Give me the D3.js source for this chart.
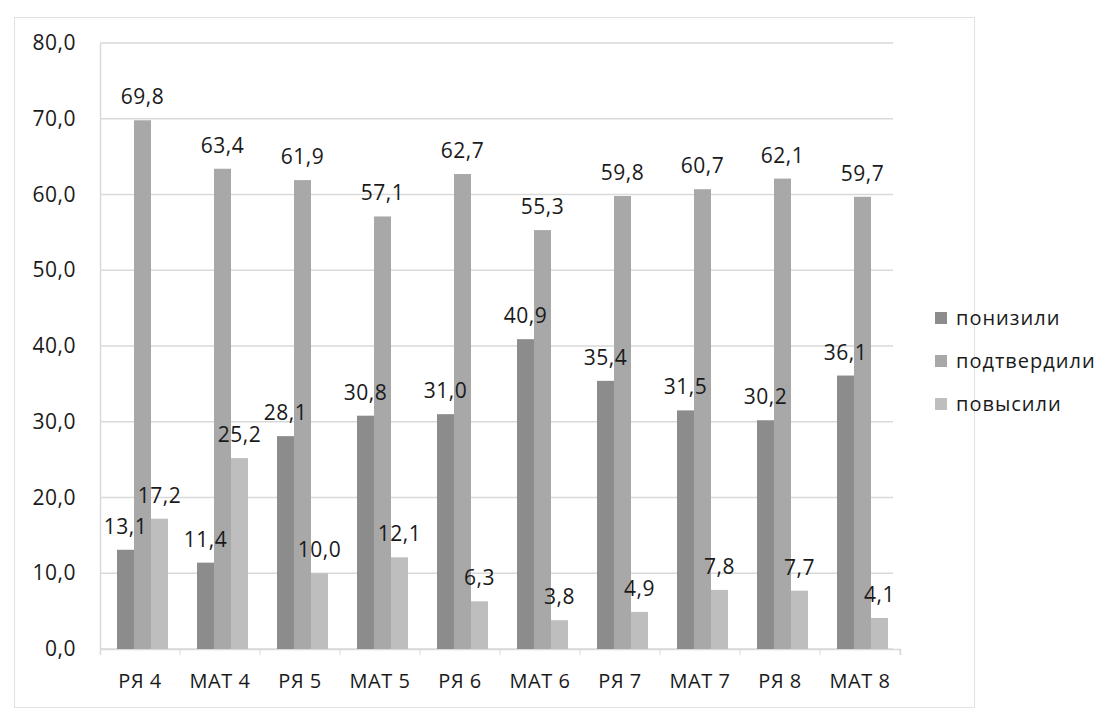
<!DOCTYPE html>
<html><head><meta charset="utf-8">
<script src="https://cdn.jsdelivr.net/npm/d3@7"></script>
<style>body{margin:0;background:#fff}svg{display:block}text{font-family:"Open Sans","DejaVu Sans",sans-serif;fill:#1a1a1a}</style>
</head><body><svg id="c" width="1119" height="709"></svg>
<script>
const categories = ["РЯ 4","МАТ 4","РЯ 5","МАТ 5","РЯ 6","МАТ 6","РЯ 7","МАТ 7","РЯ 8","МАТ 8"];
const seriesNames = ["понизили","подтвердили","повысили"];
const lowered   = [13.1,11.4,28.1,30.8,31.0,40.9,35.4,31.5,30.2,36.1];
const confirmed = [69.8,63.4,61.9,57.1,62.7,55.3,59.8,60.7,62.1,59.7];
const raised    = [17.2,25.2,10.0,12.1,6.3,3.8,4.9,7.8,7.7,4.1];
const yTicks = [0,10,20,30,40,50,60,70,80];
const colors = ["#8c8c8c","#a8a8a8","#bebebe"];

const values = [lowered, confirmed, raised];
const svg = d3.select("#c");
const fmt = v => v.toFixed(1).replace(".", ",");

// outer border
svg.append("rect").attr("x",14.5).attr("y",17.5).attr("width",960).attr("height",690)
  .attr("fill","none").attr("stroke","#e2e2e2");

const x0 = d3.scaleBand().domain(categories).range([100,900]).paddingInner(0).paddingOuter(0);
const x1 = d3.scaleBand().domain(seriesNames).range([17,68]);
const y = d3.scaleLinear().domain([0,80]).range([649,43]);

// gridlines
svg.append("g").selectAll("line").data(yTicks).join("line")
  .attr("x1",100).attr("x2",893).attr("y1",d=>y(d)).attr("y2",d=>y(d))
  .attr("stroke","#d9d9d9").attr("stroke-width",1.5);

// y axis
const ya = svg.append("g").attr("transform","translate(100,0)")
  .call(d3.axisLeft(y).tickValues(yTicks).tickFormat(fmt).tickSize(0).tickPadding(24));
ya.select(".domain").attr("stroke","#d9d9d9").attr("stroke-width",1.5);
ya.selectAll("text").attr("font-size",21).attr("letter-spacing","0.5px").style("fill","#1a1a1a");

// x axis
const xa = svg.append("g").attr("transform","translate(0,649)")
  .call(d3.axisBottom(x0).tickSize(6).tickPadding(26));
xa.select(".domain").attr("stroke","#d9d9d9").attr("stroke-width",1.5);
xa.selectAll(".tick line").attr("stroke","#d9d9d9").attr("transform","translate(40,0)");
xa.selectAll("text").attr("font-size",20).attr("dy","0.35em").attr("letter-spacing","0.5px").style("fill","#1a1a1a");

// bars
const groups = svg.append("g").selectAll("g").data(categories).join("g")
  .attr("transform",c=>`translate(${x0(c)},0)`);
seriesNames.forEach((s,si)=>{
  groups.append("rect")
    .attr("x",x1(s)).attr("width",x1.bandwidth())
    .attr("y",(c,i)=>y(values[si][i])).attr("height",(c,i)=>y(0)-y(values[si][i]))
    .attr("fill",colors[si]);
});
seriesNames.forEach((s,si)=>{
  groups.append("text")
    .attr("x",x1(s)+x1.bandwidth()/2).attr("y",(c,i)=>y(values[si][i])-16)
    .attr("text-anchor","middle").attr("font-size",21).attr("letter-spacing","0.5px")
    .text((c,i)=>fmt(values[si][i]));
});

// legend
const lg = svg.append("g").attr("transform","translate(935,0)");
seriesNames.forEach((s,i)=>{
  const yy = 318 + i*43;
  lg.append("rect").attr("x",0).attr("y",yy-6).attr("width",12).attr("height",12).attr("fill",colors[i]);
  lg.append("text").attr("x",21).attr("y",yy+7).attr("font-size",20).attr("letter-spacing","1px").text(s);
});
</script></body></html>
